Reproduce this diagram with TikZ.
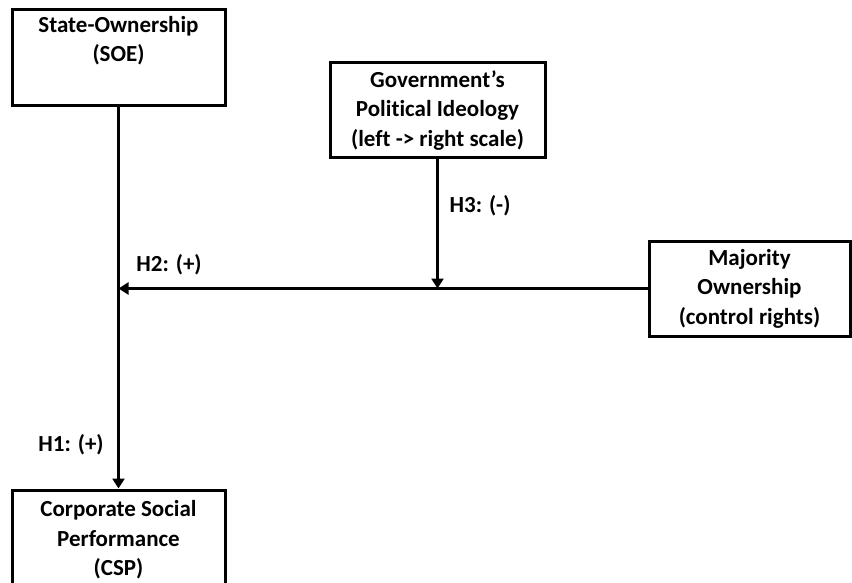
\documentclass[tikz,border=0pt]{standalone}
\usepackage{fontspec}
\setmainfont[Ligatures=NoCommon]{Carlito}
\usepackage{tikz}
\usetikzlibrary{arrows.meta,calc}

\begin{document}
\begin{tikzpicture}[x=1pt, y=-1pt,
    box/.style={rectangle, draw, line width=3pt, align=center, inner sep=0pt,
        font=\fontsize{23}{29.5}\selectfont\bfseries},
    arrow/.style={-{Triangle[width=12pt,length=10pt]}, line width=3.2pt},
    hyp/.style={font=\fontsize{23}{26}\selectfont\bfseries}
]
    \useasboundingbox (0,0) rectangle (852,583);

    % Boxes
    \node[box, minimum width=213pt, minimum height=96pt] (soe) at (118.5,58) {State-Ownership\\(SOE)\\\strut};
    \node[box, minimum width=215pt, minimum height=95pt] (gov) at (437.5,110.5) {Government's\\Political Ideology\\(left -> right scale)};
    \node[box, minimum width=201pt, minimum height=95pt] (maj) at (749.5,288.5) {Majority\\Ownership\\(control rights)};
    \node[box, minimum width=213pt, minimum height=100pt] (csp) at (118.5,540) {Corporate Social\\Performance\\(CSP)};

    % Paths
    \draw[arrow] (soe.south) -- (csp.north);
    \draw[arrow] (maj.west) -- (maj.west -| soe.south);
    \draw[arrow] (gov.south) -- (gov.south |- maj.west);

    % Hypotheses
    \node[hyp] (h1) at (71,445) {H1: (+)};
    \node[hyp] (h2) at (169,265) {H2: (+)};
    \node[hyp] (h3) at (480,206) {H3: (-)};
\end{tikzpicture}
\end{document}
